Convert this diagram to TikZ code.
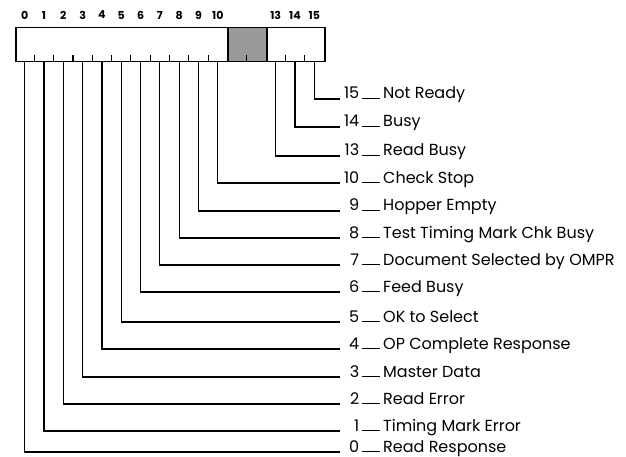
\documentclass[tikz,border=0pt]{standalone}
\usepackage{fontspec}
\setmainfont{Poppins}
\usetikzlibrary{positioning}
\tikzset{
  wire/.style={line width=1.2pt},
  regbox/.style={draw, line width=1.5pt, inner sep=0pt, minimum height=34pt, anchor=north west},
  bitnum/.style={font=\fontsize{11}{11}\selectfont\bfseries, inner sep=0pt},
  desc/.style={anchor=base west, inner sep=0pt, font=\fontsize{16}{16}\selectfont},
}
\newcommand{\bitdesc}[2]{\makebox[19pt][r]{#1}\hspace{3pt}\rule{18pt}{0.9pt}\hspace{3pt}#2}

\begin{document}
\begin{tikzpicture}[x=1pt, y=-1pt]
  \useasboundingbox (0,0) rectangle (626,457);

  % status register
  \node[regbox, minimum width=309pt] (reg) at (15,27) {};
  \node[regbox, fill=black!40, minimum width=38.6pt] (spare) at (227.4,27) {};

  \foreach \i in {1,...,10,12,14,15}
    \draw[wire] (15+19.3125*\i,61) -- ++(0,-6);
  \foreach \i in {0,...,10,13,14,15} {
    \node[bitnum] (t\i) at (24.66+19.3125*\i,15) {\i};
    \coordinate (b\i) at (24.66+19.3125*\i,61);
  }

  % bit meanings
  \node[desc] (n15) at (340,99)  {\bitdesc{15}{Not Ready}};
  \node[desc] (n14) at (340,127) {\bitdesc{14}{Busy}};
  \node[desc] (n13) at (340,156) {\bitdesc{13}{Read Busy}};
  \node[desc] (n10) at (340,183) {\bitdesc{10}{Check Stop}};
  \node[desc] (n9)  at (340,211) {\bitdesc{9}{Hopper Empty}};
  \node[desc] (n8)  at (340,238) {\bitdesc{8}{Test Timing Mark Chk Busy}};
  \node[desc] (n7)  at (340,265) {\bitdesc{7}{Document Selected by OMPR}};
  \node[desc] (n6)  at (340,292) {\bitdesc{6}{Feed Busy}};
  \node[desc] (n5)  at (340,322) {\bitdesc{5}{OK to Select}};
  \node[desc] (n4)  at (340,349) {\bitdesc{4}{OP Complete Response}};
  \node[desc] (n3)  at (340,377) {\bitdesc{3}{Master Data}};
  \node[desc] (n2)  at (340,404) {\bitdesc{2}{Read Error}};
  \node[desc] (n1)  at (340,431) {\bitdesc{1}{Timing Mark Error}};
  \node[desc] (n0)  at (340,452) {\bitdesc{0}{Read Response}};

  \draw[wire] (b15) |- (n15.base west);
  \draw[wire] (b14) |- (n14.base west);
  \draw[wire] (b13) |- (n13.base west);
  \draw[wire] (b10) |- (n10.base west);
  \draw[wire] (b9)  |- (n9.base west);
  \draw[wire] (b8)  |- (n8.base west);
  \draw[wire] (b7)  |- (n7.base west);
  \draw[wire] (b6)  |- (n6.base west);
  \draw[wire] (b5)  |- (n5.base west);
  \draw[wire] (b4)  |- (n4.base west);
  \draw[wire] (b3)  |- (n3.base west);
  \draw[wire] (b2)  |- (n2.base west);
  \draw[wire] (b1)  |- (n1.base west);
  \draw[wire] (b0)  |- (n0.base west);

\end{tikzpicture}
\end{document}
